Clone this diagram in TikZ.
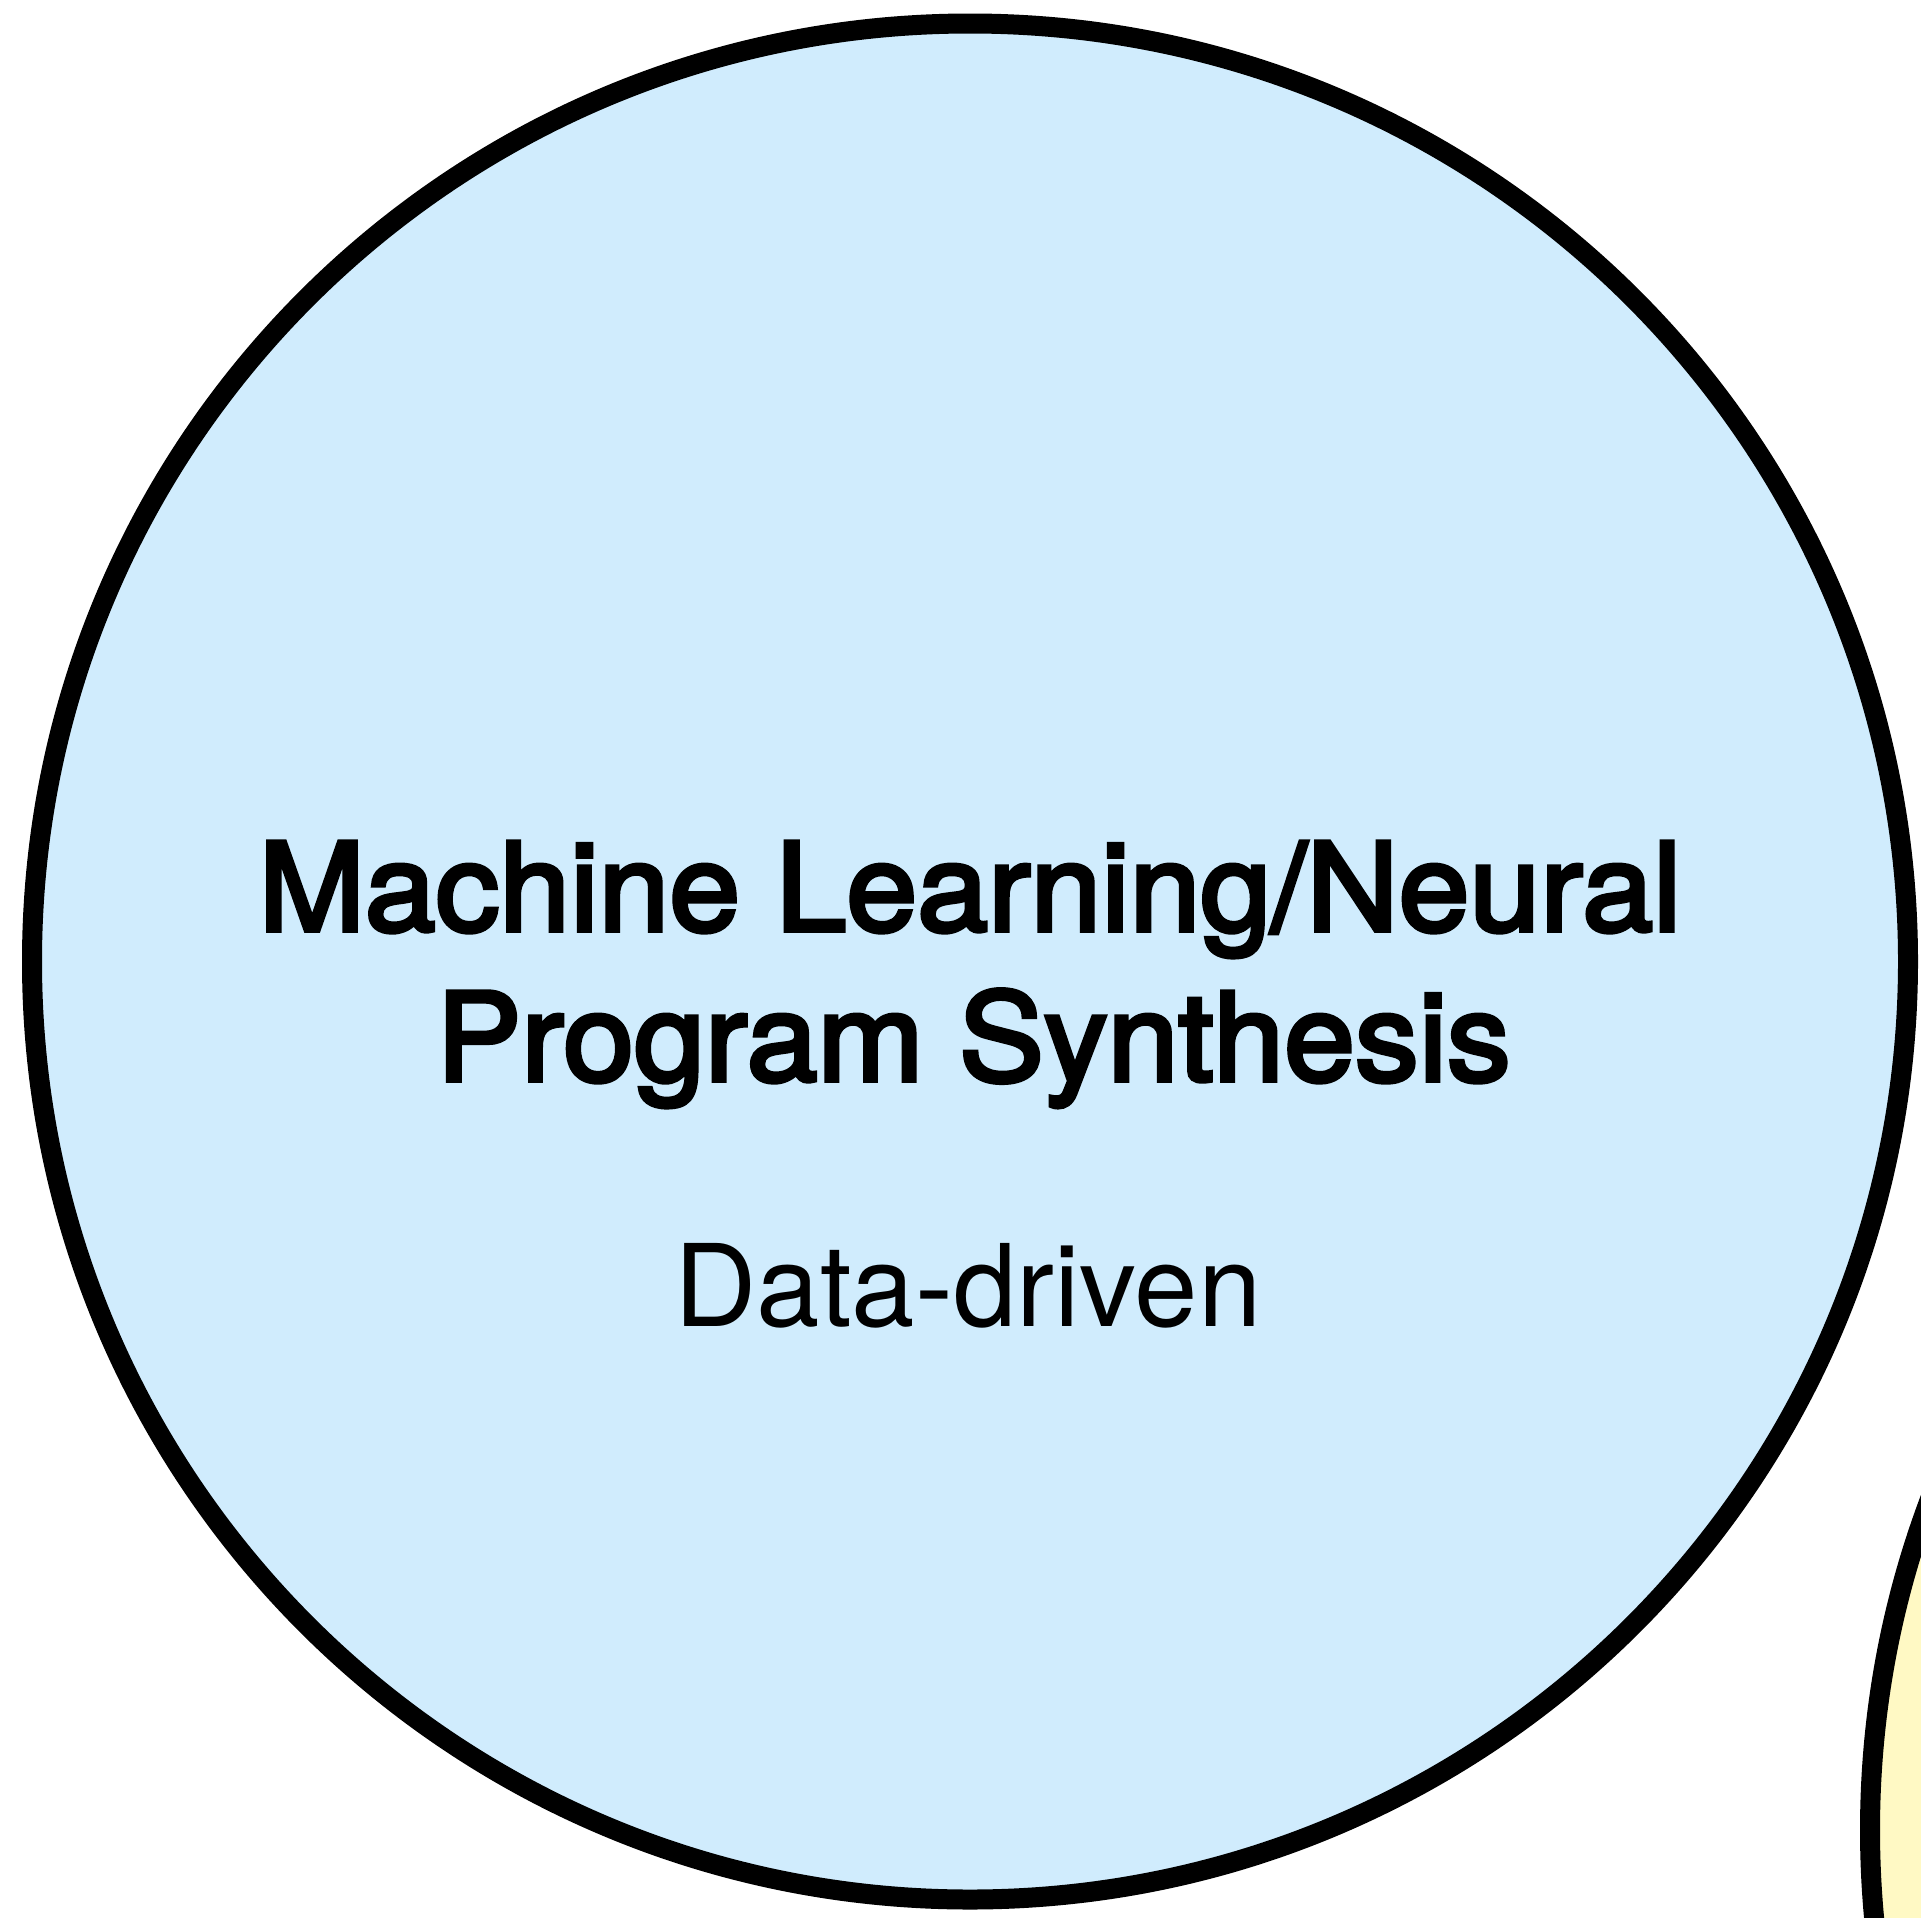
\documentclass[tikz,border=0pt]{standalone}
\usepackage{fontspec}
\setmainfont{TeX Gyre Heros}
\newfontfamily\headfont[FakeBold=3.5, FakeStretch=1.04]{TeX Gyre Heros}
\definecolor{mlblue}{HTML}{D0ECFD}
\definecolor{symyellow}{HTML}{FFF9C4}
\tikzset{
  area/.style={line width=10pt, draw=black},
  headline/.style={anchor=base, inner sep=0pt, font=\headfont\fontsize{61.25pt}{75pt}\selectfont},
  subline/.style={anchor=base, inner sep=0pt, font=\fontsize{57pt}{70pt}\selectfont}
}
\begin{document}
\begin{tikzpicture}[x=0.5pt, y=-0.5pt]
  \useasboundingbox (0,0) rectangle (1921,1917);
  \clip (0,0) rectangle (1921,1917);
  % data-driven synthesis region
  \draw[area, fill=mlblue] (970,961.5) circle[radius=469pt];
  % neighbouring region, mostly off the page
  \draw[area, fill=symyellow] (2808,1830) circle[radius=469pt];
  \node[headline] (title1) at (970,930.7) {Machine Learning/Neural};
  \node[headline] (title2) at (973.5,1080.7) {Program Synthesis};
  \node[subline] (sub) at (968,1326) {Data-driven};
\end{tikzpicture}
\end{document}
